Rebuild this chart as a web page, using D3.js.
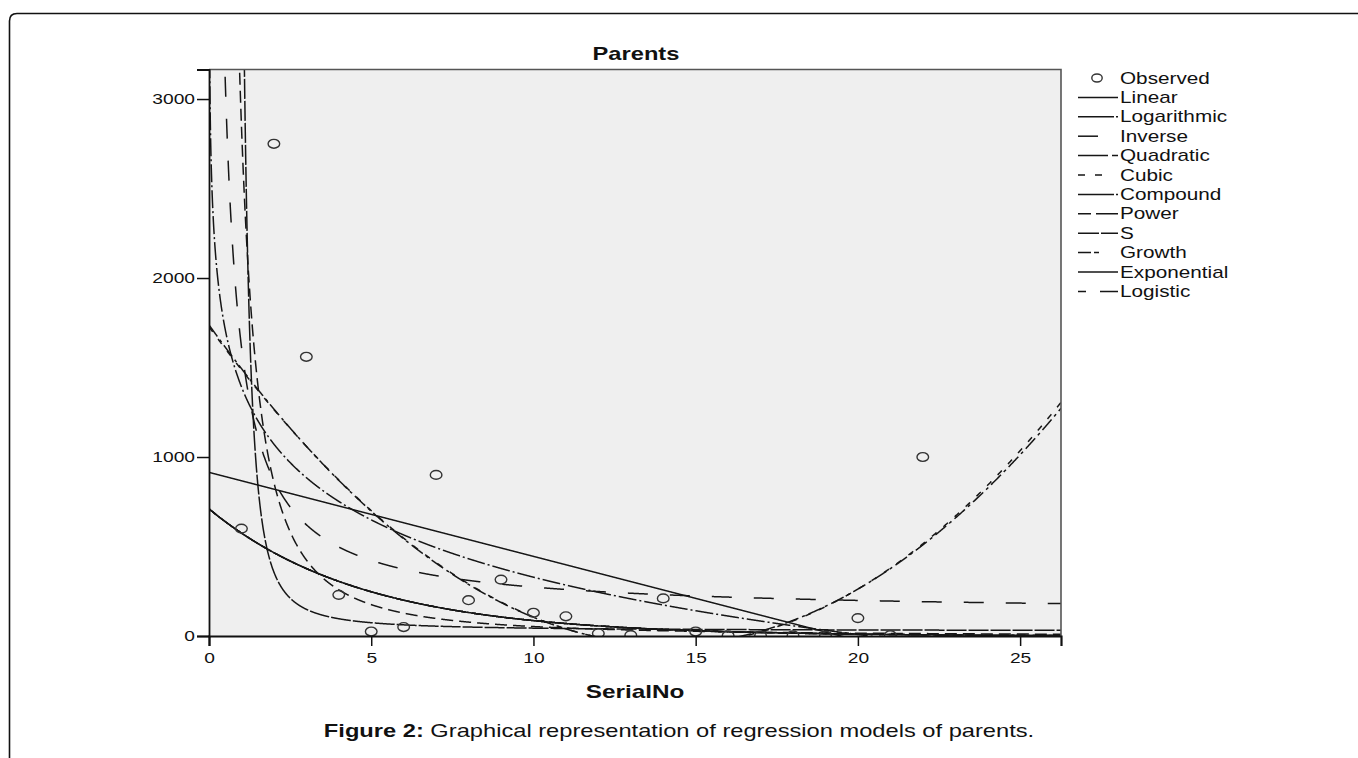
<!DOCTYPE html>
<html><head><meta charset="utf-8">
<script src="https://cdn.jsdelivr.net/npm/d3@7"></script>
<style>
body{margin:0;background:#fff;}
svg{display:block;}
text{font-family:"Liberation Sans",Arial,Helvetica,sans-serif;fill:#111;}
</style>
</head><body>
<svg id="chart" width="1358" height="758"></svg>
<script>
// ---------------- data ----------------
const serialNo = [1,2,3,4,5,6,7,8,9,10,11,12,13,14,15,16,17,18,19,20,21,22];
const parents  = [600,2750,1560,230,25,50,900,200,315,130,110,15,5,210,25,3,2,3,2,100,4,1000];
const xTicks = [0,5,10,15,20,25];
const yTicks = [0,1000,2000,3000];
const xDomain = [0,26.26];
const yDomain = [0,3165];
const modelNames = ["Linear","Logarithmic","Inverse","Quadratic","Cubic","Compound","Power","S","Growth","Exponential","Logistic"];
const chartTitle = "Parents";
const xTitle = "SerialNo";
const captionBold = "Figure 2:";
const captionText = " Graphical representation of regression models of parents.";

// ---------------- styles ----------------
const modelDash = {
  Linear:null, Logarithmic:"18,3,2,3", Inverse:"20,22", Quadratic:"14,4,3,4",
  Cubic:"6,9", Compound:"18,3,2,3", Power:"12,6", S:"20,2",
  Growth:"9,3,4,6", Exponential:null, Logistic:"8,8"
};
const legendDash = {
  Linear:null, Logarithmic:"36,2,2,20", Inverse:"20,40", Quadratic:"30,4,7,20",
  Cubic:"7,10,7,20", Compound:"36,2,2,20", Power:"13,5,22,20", S:"21,2,17,20",
  Growth:"13,3,5,40", Exponential:null, Logistic:"8,14,18,20"
};

// ---------------- regression fits computed from the observed data ----------------
function solve(A, b){
  const n=b.length, M=A.map((r,i)=>r.concat([b[i]]));
  for(let c=0;c<n;c++){
    let p=c; for(let r=c+1;r<n;r++) if(Math.abs(M[r][c])>Math.abs(M[p][c])) p=r;
    const tmp=M[c]; M[c]=M[p]; M[p]=tmp;
    for(let r=0;r<n;r++){ if(r===c) continue; const f=M[r][c]/M[c][c]; for(let k=c;k<=n;k++) M[r][k]-=f*M[c][k]; }
  }
  return M.map((r,i)=>r[n]/r[i]);
}
function ols(feat, target){
  const X=serialNo.map(feat), k=X[0].length;
  const A=d3.range(k).map(i=>d3.range(k).map(j=>d3.sum(X,r=>r[i]*r[j])));
  const b=d3.range(k).map(i=>d3.sum(X,(r,n)=>r[i]*target[n]));
  return solve(A,b);
}
const lnY = parents.map(v=>Math.log(v));
const fits = {};
{ const c=ols(v=>[1,v],parents); fits.Linear=v=>c[0]+c[1]*v; }
{ const c=ols(v=>[1,Math.log(v)],parents); fits.Logarithmic=v=>c[0]+c[1]*Math.log(v); }
{ const c=ols(v=>[1,1/v],parents); fits.Inverse=v=>c[0]+c[1]/v; }
{ const c=ols(v=>[1,v/10,(v/10)**2],parents); fits.Quadratic=v=>c[0]+c[1]*v/10+c[2]*(v/10)**2; }
{ const c=ols(v=>[1,v/10,(v/10)**2,(v/10)**3],parents); fits.Cubic=v=>c[0]+c[1]*v/10+c[2]*(v/10)**2+c[3]*(v/10)**3; }
{ const c=ols(v=>[1,v],lnY); fits.Compound=v=>Math.exp(c[0]+c[1]*v); fits.Growth=fits.Compound; fits.Exponential=fits.Compound; }
{ const c=ols(v=>[1,Math.log(v)],lnY); fits.Power=v=>Math.exp(c[0]+c[1]*Math.log(v)); }
{ const c=ols(v=>[1,1/v],lnY); fits.S=v=>Math.exp(c[0]+c[1]/v); }
{ const c=ols(v=>[1,v],parents.map(p=>Math.log(1/p))); fits.Logistic=v=>1/Math.exp(c[0]+c[1]*v); }

// ---------------- layout ----------------
const svg = d3.select("#chart");
const plot = {left:209, right:1061, top:69.5, bottom:636};
const x = d3.scaleLinear().domain(xDomain).range([plot.left, plot.right]);
const y = d3.scaleLinear().domain(yDomain).range([plot.bottom, plot.top]);
const SX = 1.28; // horizontal stretch of the original image text

// outer frame
svg.append("path")
  .attr("d","M9.5,770 L9.5,21 Q9.5,13.5 17,13.5 L1370,13.5")
  .attr("fill","none").attr("stroke","#111").attr("stroke-width",1.6);

// plot background
svg.append("rect").attr("x",plot.left).attr("y",plot.top)
  .attr("width",plot.right-plot.left).attr("height",plot.bottom-plot.top)
  .attr("fill","#efefef");

svg.append("defs").append("clipPath").attr("id","clip")
  .append("rect").attr("x",plot.left).attr("y",plot.top)
  .attr("width",plot.right-plot.left).attr("height",plot.bottom-plot.top);

// curves
const gridX = d3.range(0.004, xDomain[1]+0.005, 0.008);
const gCurves = svg.append("g").attr("clip-path","url(#clip)");
const line = d3.line().x(d=>x(d[0])).y(d=>y(d[1]))
  .defined(d=>isFinite(d[1]) && d[1] < yDomain[1]*3 && d[1] > -yDomain[1]);
modelNames.forEach(name=>{
  const f = fits[name];
  const pts = gridX.map(v=>[v,f(v)]);
  gCurves.append("path").datum(pts)
    .attr("d",line).attr("fill","none").attr("stroke","#161616")
    .attr("stroke-width",1.5)
    .attr("stroke-dasharray",modelDash[name]);
});

// observed points
svg.append("g").attr("clip-path","url(#clip)").selectAll("ellipse")
  .data(serialNo.map((s,i)=>[s,parents[i]])).join("ellipse")
  .attr("cx",d=>x(d[0])).attr("cy",d=>y(d[1]))
  .attr("rx",5.8).attr("ry",4.4)
  .attr("fill","none").attr("stroke","#333").attr("stroke-width",1.4);

// plot borders (top, right)
svg.append("path")
  .attr("d",`M${plot.left},${plot.top} H${plot.right} V${plot.bottom}`)
  .attr("fill","none").attr("stroke","#555").attr("stroke-width",1.6);

// axes
const yAxis = d3.axisLeft(y).tickValues(yTicks).tickSize(12).tickPadding(2).tickFormat(d3.format("d"));
const gy = svg.append("g").attr("transform",`translate(${plot.left},0)`).call(yAxis);
gy.select(".domain").attr("stroke","#111").attr("stroke-width",1.8);
gy.selectAll(".tick line").attr("stroke","#111").attr("stroke-width",1.5);
gy.selectAll(".tick text").attr("font-size",15).attr("fill","#111")
  .attr("font-family","Liberation Sans, Arial, sans-serif")
  .attr("transform",function(){ const xx=+d3.select(this).attr("x"); return `translate(${xx*(1-SX)},0) scale(${SX},1)`; });

const xAxis = d3.axisBottom(x).tickValues(xTicks).tickSize(10).tickPadding(6).tickFormat(d3.format("d"));
const gx = svg.append("g").attr("transform",`translate(0,${plot.bottom})`).call(xAxis);
gx.select(".domain").attr("stroke","#111").attr("stroke-width",2.2);
gx.selectAll(".tick line").attr("stroke","#111").attr("stroke-width",1.5);
gx.selectAll(".tick text").attr("font-size",15).attr("fill","#111")
  .attr("font-family","Liberation Sans, Arial, sans-serif")
  .attr("transform",`scale(${SX},1)`);

// stretched text helper
function stext(txt, tx, ty, size, weight, anchor){
  return svg.append("text").attr("transform",`translate(${tx},${ty}) scale(${SX},1)`)
    .attr("font-size",size).attr("font-weight",weight||"normal")
    .attr("text-anchor",anchor||"start").text(txt);
}
stext(chartTitle, 636, 60, 18.5, "bold", "middle");
stext(xTitle, 635, 698, 19, "bold", "middle");

// legend
const legendRows = ["Observed"].concat(modelNames);
const lg = svg.append("g");
legendRows.forEach((name,i)=>{
  const cy = 78 + i*19.4;
  if(name==="Observed"){
    lg.append("ellipse").attr("cx",1097).attr("cy",cy).attr("rx",5.2).attr("ry",4)
      .attr("fill","none").attr("stroke","#333").attr("stroke-width",1.4);
  } else {
    lg.append("line").attr("x1",1078).attr("x2",1118).attr("y1",cy).attr("y2",cy)
      .attr("stroke","#161616").attr("stroke-width",1.5)
      .attr("stroke-dasharray",legendDash[name]);
  }
  stext(name, 1120, cy+5.5, 16.2, "normal", "start");
});

// caption
const cap = svg.append("text").attr("transform",`translate(679,737) scale(${SX},1)`)
  .attr("text-anchor","middle").attr("font-size",18.5);
cap.append("tspan").attr("font-weight","bold").text(captionBold);
cap.append("tspan").text(captionText);
</script>
</body></html>
